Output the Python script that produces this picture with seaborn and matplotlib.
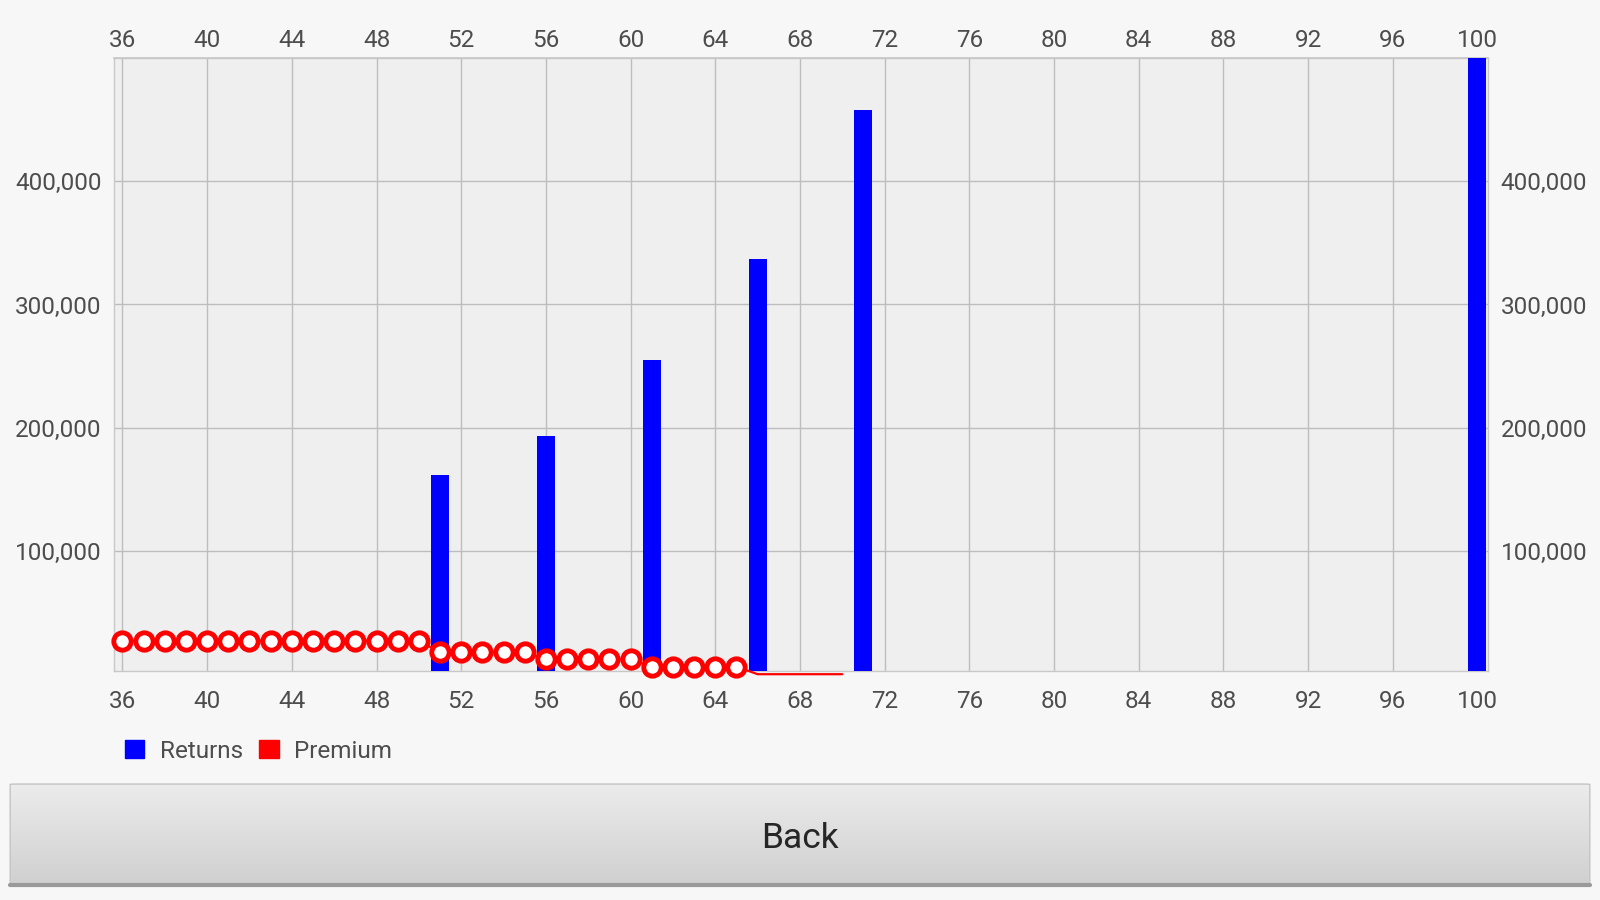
import numpy as np
import matplotlib.pyplot as plt
import pandas as pd
import seaborn as sns
from matplotlib.patches import Patch, FancyBboxPatch
from matplotlib.colors import LinearSegmentedColormap
from matplotlib.ticker import FuncFormatter

# Values
return_ages = [51, 56, 61, 66, 71, 100]
returns = [161800, 193200, 255200, 337000, 457800, 560000]

premium_ages = [36, 37, 38, 39, 40, 41, 42, 43, 44, 45, 46, 47, 48, 49, 50,
                51, 52, 53, 54, 55, 56, 57, 58, 59, 60, 61, 62, 63, 64, 65,
                66, 67, 68, 69, 70]
premium = [27100, 27100, 27100, 27100, 27100, 27100, 27100, 27100, 27100, 27100,
           27100, 27100, 27100, 27100, 27100,
           17900, 17900, 17900, 17900, 17900,
           12100, 12100, 12100, 12100, 12100,
           6200, 6200, 6200, 6200, 6200,
           0, 0, 0, 0, 0]

x_ticks = [36, 40, 44, 48, 52, 56, 60, 64, 68, 72, 76, 80, 84, 88, 92, 96, 100]
y_ticks = [100000, 200000, 300000, 400000]
legend_labels = ["Returns", "Premium"]
button_text = "Back"

BLUE = "#0000ff"
RED = "#ff0000"
TXT = "#4d4d4d"

sns.set_theme(style="whitegrid")
plt.rcParams['font.family'] = ['Roboto', 'DejaVu Sans']

fig = plt.figure(figsize=(16, 9), dpi=100, facecolor="#f7f7f7")
ax = fig.add_axes([114 / 1600, 1 - 670.5 / 900, 1374 / 1600, 612.5 / 900])
ax.set_facecolor("#efefef")

df_ret = pd.DataFrame({"age": return_ages, "value": returns})
df_prem = pd.DataFrame({"age": premium_ages, "value": premium})

# returns as bars on a numeric x axis
sns.barplot(data=df_ret, x="age", y="value", native_scale=True, width=0.17,
            color=BLUE, saturation=1, linewidth=0, ax=ax, zorder=3)

# premium as open circles joined by a line
show_marker = [p > 0 for p in premium]
sns.lineplot(data=df_prem, x="age", y="value", color=RED, linewidth=1.6,
             marker="o", markersize=12.5, markeredgewidth=3.5,
             markerfacecolor="white", markeredgecolor=RED,
             markevery=show_marker, ax=ax, zorder=4, clip_on=False)

ax.set_xlim(35.6, 100.5)
ax.set_ylim(3000, 500000)
ax.set_xticks(x_ticks)
ax.set_yticks(y_ticks)
ax.yaxis.set_major_formatter(FuncFormatter(lambda v, p: f"{int(v):,}"))
ax.set_xlabel("")
ax.set_ylabel("")
ax.grid(True, color="#bdbdbd", linewidth=1)
ax.set_axisbelow(True)
ax.tick_params(axis="both", length=0, labelsize=17.5, labelcolor=TXT)
ax.tick_params(axis="x", pad=14)
ax.tick_params(axis="y", pad=9, labelright=True)
for s in ax.spines.values():
    s.set_color("#c8c8c8")
    s.set_linewidth(1)

top = ax.secondary_xaxis("top")
top.set_xticks(x_ticks)
top.tick_params(length=0, labelsize=17.5, labelcolor=TXT, pad=4)
top.spines["top"].set_color("#c8c8c8")

# legend with square swatches
handles = [Patch(color=BLUE, label=legend_labels[0]),
           Patch(color=RED, label=legend_labels[1])]
fig.legend(handles=handles, loc="center left", bbox_to_anchor=(125 / 1600, 1 - 751 / 900),
           ncol=2, frameon=False, fontsize=17.5, handlelength=0.8, handleheight=0.8,
           handletextpad=0.65, columnspacing=0.65, borderpad=0, borderaxespad=0,
           labelcolor=TXT)

# the "Back" button under the chart
bax = fig.add_axes([7 / 1600, 1 - 888 / 900, 1586 / 1600, 105 / 900])
bax.set_xlim(0, 1)
bax.set_ylim(0, 1)
bax.axis("off")
grad = np.linspace(0, 1, 200).reshape(-1, 1)
cmap = LinearSegmentedColormap.from_list("btn", ["#ececec", "#d0d0d0"])
img = bax.imshow(grad, cmap=cmap, aspect="auto", extent=[0, 1, 0.04, 1], zorder=1)
box = FancyBboxPatch((0.002, 0.04), 0.996, 0.95, boxstyle="round,pad=0,rounding_size=0.004",
                     transform=bax.transAxes, facecolor="none", edgecolor="#c4c4c4", linewidth=1, zorder=2)
bax.add_patch(box)
img.set_clip_path(box)
bax.axhline(0.03, xmin=0.002, xmax=0.998, color="#9a9a9a", linewidth=3, zorder=3)
bax.text(0.5, 0.47, button_text, ha="center", va="center", fontsize=25.5, color="#262626")

fig.savefig("out.png", dpi=100, facecolor=fig.get_facecolor())
